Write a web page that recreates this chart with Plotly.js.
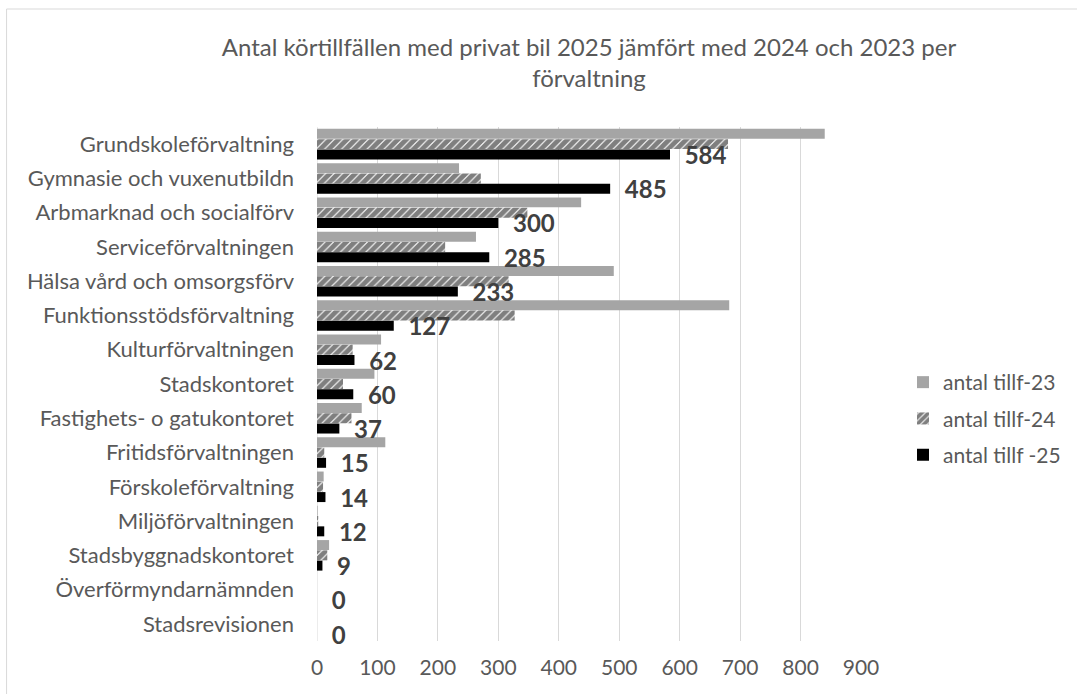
<!DOCTYPE html>
<html>
<head>
<meta charset="utf-8">
<script src="https://cdn.plot.ly/plotly-3.0.1.min.js"></script>
<style>html,body{margin:0;padding:0;background:#fff;}#chart{width:1077px;height:694px;}</style>
</head>
<body>
<div id="chart"></div>
<script>
const categories = [
  "Grundskoleförvaltning",
  "Gymnasie och vuxenutbildn",
  "Arbmarknad och socialförv",
  "Serviceförvaltningen",
  "Hälsa vård och omsorgsförv",
  "Funktionsstödsförvaltning",
  "Kulturförvaltningen",
  "Stadskontoret",
  "Fastighets- o gatukontoret",
  "Fritidsförvaltningen",
  "Förskoleförvaltning",
  "Miljöförvaltningen",
  "Stadsbyggnadskontoret",
  "Överförmyndarnämnden",
  "Stadsrevisionen"
];
const seriesNames = ["antal tillf-23", "antal tillf-24", "antal tillf -25"];
const values23 = [840, 235, 437, 263, 491, 682, 106, 95, 74, 113, 11, 1, 20, 0, 0];
const values24 = [680, 271, 348, 212, 317, 327, 59, 43, 57, 12, 10, 2, 17, 0, 0];
const values25 = [584, 485, 300, 285, 233, 127, 62, 60, 37, 15, 14, 12, 9, 0, 0];
const xTicks = [0, 100, 200, 300, 400, 500, 600, 700, 800, 900];

const FONT = "Lato, 'Open Sans', sans-serif";
const GREY_TXT = "#595959";

const traces = [
  {
    type: "bar", orientation: "h", name: seriesNames[0],
    x: values23, y: categories, legendgroup: "a",
    marker: {color: "#a5a5a5"},
    hoverinfo: "skip"
  },
  {
    type: "bar", orientation: "h", name: seriesNames[1],
    x: values24, y: categories, legendgroup: "b",
    marker: {color: "#ffffff", pattern: {shape: "/", fgcolor: "#000000", bgcolor: "#ffffff", size: 6, solidity: 0.82, fillmode: "overlay"}},
    hoverinfo: "skip"
  },
  {
    type: "bar", orientation: "h", name: seriesNames[2],
    x: values25, y: categories, legendgroup: "c",
    marker: {color: "#000000"},
    text: values25.map(v => "\u00a0\u00a0" + v),
    textposition: "outside",
    constraintext: "none",
    cliponaxis: false,
    textfont: {family: FONT, size: 24, color: "#404040", weight: "bold"},
    hoverinfo: "skip"
  }
];

const px0 = 317, px1 = 862, py0 = 127, py1 = 641;
const pw = px1 - px0, ph = py1 - py0;

const layout = {
  width: 1077, height: 694,
  paper_bgcolor: "#ffffff", plot_bgcolor: "#ffffff",
  margin: {l: px0, r: 1077 - px1, t: py0, b: 694 - py1, pad: 0},
  font: {family: FONT, color: GREY_TXT},
  title: {
    text: "Antal körtillfällen med privat bil 2025 jämfört med 2024 och 2023 per<br>förvaltning",
    font: {family: FONT, size: 24, color: GREY_TXT, lineposition: "none"},
    x: 0.5, xanchor: "center", y: 0.92, yanchor: "top", xref: "paper", yref: "container"
  },
  barmode: "group",
  bargap: 0.1,
  bargroupgap: 0.03,
  xaxis: {
    range: [0, 900],
    tickvals: xTicks,
    ticktext: xTicks.map(String),
    showgrid: true, gridcolor: "#d9d9d9", gridwidth: 1,
    zeroline: false, showline: false, ticks: "",
    ticklabelstandoff: 12,
    tickfont: {family: FONT, size: 21, color: GREY_TXT},
    fixedrange: true
  },
  yaxis: {
    type: "category",
    autorange: "reversed",
    showgrid: false, zeroline: false, showline: false, ticks: "",
    ticklabelstandoff: 22,
    tickfont: {family: FONT, size: 22, color: GREY_TXT},
    fixedrange: true
  },
  legend: {
    x: (903 - px0) / pw, xanchor: "left",
    y: (py1 - 362) / ph, yanchor: "top",
    traceorder: "grouped",
    tracegroupgap: 6,
    font: {family: FONT, size: 21, color: GREY_TXT},
    itemwidth: 30,
    bgcolor: "rgba(0,0,0,0)"
  },
  shapes: [
    {type: "rect", xref: "paper", yref: "paper",
     x0: (6 - px0) / pw, x1: (1090 - px0) / pw,
     y0: (py1 - 710) / ph, y1: (py1 - 9) / ph,
     line: {color: "#d9d9d9", width: 1}, fillcolor: "rgba(0,0,0,0)", layer: "below"},
    {type: "line", xref: "x", yref: "paper", x0: 0, x1: 0, y0: 0, y1: 1,
     line: {color: "#d9d9d9", width: 1}, layer: "below"}
  ]
};

Plotly.newPlot("chart", traces, layout, {displayModeBar: false, staticPlot: true});
</script>
</body>
</html>
